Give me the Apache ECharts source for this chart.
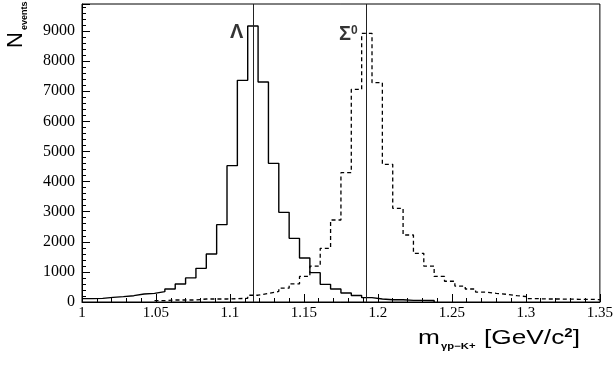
<!DOCTYPE html>
<html><head><meta charset="utf-8">
<script src="https://cdn.jsdelivr.net/npm/echarts@6/dist/echarts.min.js"></script>
<style>html,body{margin:0;padding:0;background:#fff}#c{width:616px;height:365px}</style>
</head><body><div id="c"></div>
<script>
// Histogram binning (GeV/c^2)
const binStart = 1.0;
const binWidth = 0.007;
// Lambda (solid) counts per bin, 50 bins
const lambdaCounts = [111,122,155,177,210,266,288,343,432,598,800,1118,1595,2569,4529,7364,9169,7309,4606,2979,2115,1460,975,587,430,300,215,144,100,77,77,55,55,50,0,0,0,0,0,0,0,0,0,0,0,0,0,0,0,0];
// Sigma0 (dashed) counts per bin, 50 bins
const sigmaCounts = [0,0,0,0,0,0,0,44,66,66,66,100,100,100,110,122,225,288,350,460,600,850,1190,1784,2724,4297,7066,8926,7286,4574,3113,2226,1618,1190,850,690,530,432,330,288,255,210,177,110,100,100,95,90,88,80];
// Nominal masses marked by vertical lines
const massLines = [1.1157, 1.192];
// Peak annotations
const peakLabelText = ['Λ', '{m|Σ}{s|0}'];
const peakLabelX = [1.1045, 1.1800];
const peakLabelY = [8950, 8880];
const yMax = 9900;

function histPoints(counts) {
  let first = counts.findIndex(v => v > 0);
  let last = counts.length - 1;
  while (last > 0 && counts[last] === 0) last--;
  const pts = [];
  for (let i = first; i <= last; i++) {
    const lo = binStart + i * binWidth, hi = binStart + (i + 1) * binWidth;
    pts.push([lo, counts[i]], [hi, counts[i]]);
  }
  if (last < counts.length - 1) pts.push([binStart + (last + 1) * binWidth, 0]);
  return pts;
}

const chart = echarts.init(document.getElementById('c'), null, {renderer: 'canvas'});
const serif = '"Liberation Serif", "Times New Roman", serif';
const sans = '"Liberation Sans", Arial, sans-serif';
chart.setOption({
  animation: false,
  backgroundColor: '#fff',
  grid: {left: 82, right: 13, top: 4, bottom: 63, show: true, borderColor: '#000', borderWidth: 1},
  xAxis: {
    type: 'value', min: 1.0, max: 1.35, interval: 0.05,
    axisLine: {show: true, onZero: false, lineStyle: {color: '#000', width: 1}},
    axisTick: {show: true, inside: true, length: 8, lineStyle: {color: '#000'}},
    minorTick: {show: true, splitNumber: 5, length: 4, lineStyle: {color: '#000'}},
    splitLine: {show: false},
    axisLabel: {color: '#000', fontFamily: serif, fontSize: 15, margin: 4,
      formatter: v => String(parseFloat(v.toFixed(2)))}
  },
  yAxis: {
    type: 'value', min: 0, max: yMax, interval: 1000,
    axisLine: {show: true, lineStyle: {color: '#000', width: 1}},
    axisTick: {show: true, inside: true, length: 8, lineStyle: {color: '#000'}},
    minorTick: {show: true, splitNumber: 5, length: 4, lineStyle: {color: '#000'}},
    splitLine: {show: false},
    axisLabel: {color: '#000', fontFamily: serif, fontSize: 16, margin: 7, showMaxLabel: false,
      formatter: v => String(Math.round(v))}
  },
  graphic: [
    {type: 'text', x: 27, y: 48, rotation: Math.PI / 2,
      style: {text: 'N', font: '22px ' + sans, fill: '#000', textAlign: 'left', textVerticalAlign: 'bottom'}},
    {type: 'text', x: 29, y: 30, rotation: Math.PI / 2,
      style: {text: 'events', font: 'bold 9px ' + sans, fill: '#000', textAlign: 'left', textVerticalAlign: 'bottom'}},
    {type: 'text', x: 418, y: 349, scaleX: 1.25,
      style: {text: '{m|m}{s|γp−K+}{m| [GeV/c}{t|2}{m|]}', fill: '#000', textAlign: 'left', textVerticalAlign: 'bottom',
        rich: {
          m: {fontFamily: sans, fontSize: 21, color: '#000', verticalAlign: 'bottom'},
          s: {fontFamily: sans, fontSize: 9, fontWeight: 'bold', color: '#000', verticalAlign: 'bottom', padding: [0, 1, -2, 1]},
          t: {fontFamily: sans, fontSize: 12, fontWeight: 'bold', color: '#000', verticalAlign: 'top'}
        }}}
  ],
  series: [
    {type: 'line', data: histPoints(lambdaCounts), symbol: 'none', z: 3,
      lineStyle: {color: '#000', width: 1.4}},
    {type: 'line', data: histPoints(sigmaCounts), symbol: 'none', z: 3,
      lineStyle: {color: '#000', width: 1.3, type: [4, 3]}},
    {type: 'scatter', symbolSize: 0, z: 5,
      data: peakLabelX.map((x, i) => [x, peakLabelY[i], peakLabelText[i]]),
      label: {show: true, position: 'inside', formatter: p => p.data[2],
        fontFamily: sans, fontSize: 20, fontWeight: 'bold', color: '#000',
        rich: {m: {fontFamily: sans, fontSize: 20, fontWeight: 'bold', color: '#000'},
               s: {fontFamily: sans, fontSize: 12, fontWeight: 'bold', color: '#000', verticalAlign: 'top', padding: [0, 0, 8, 0]}}},
      markLine: {silent: true, symbol: 'none', label: {show: false},
        lineStyle: {color: '#222', width: 1, type: 'solid'},
        data: massLines.map(v => [{coord: [v, 0]}, {coord: [v, yMax]}])}}
  ]
});
</script></body></html>
